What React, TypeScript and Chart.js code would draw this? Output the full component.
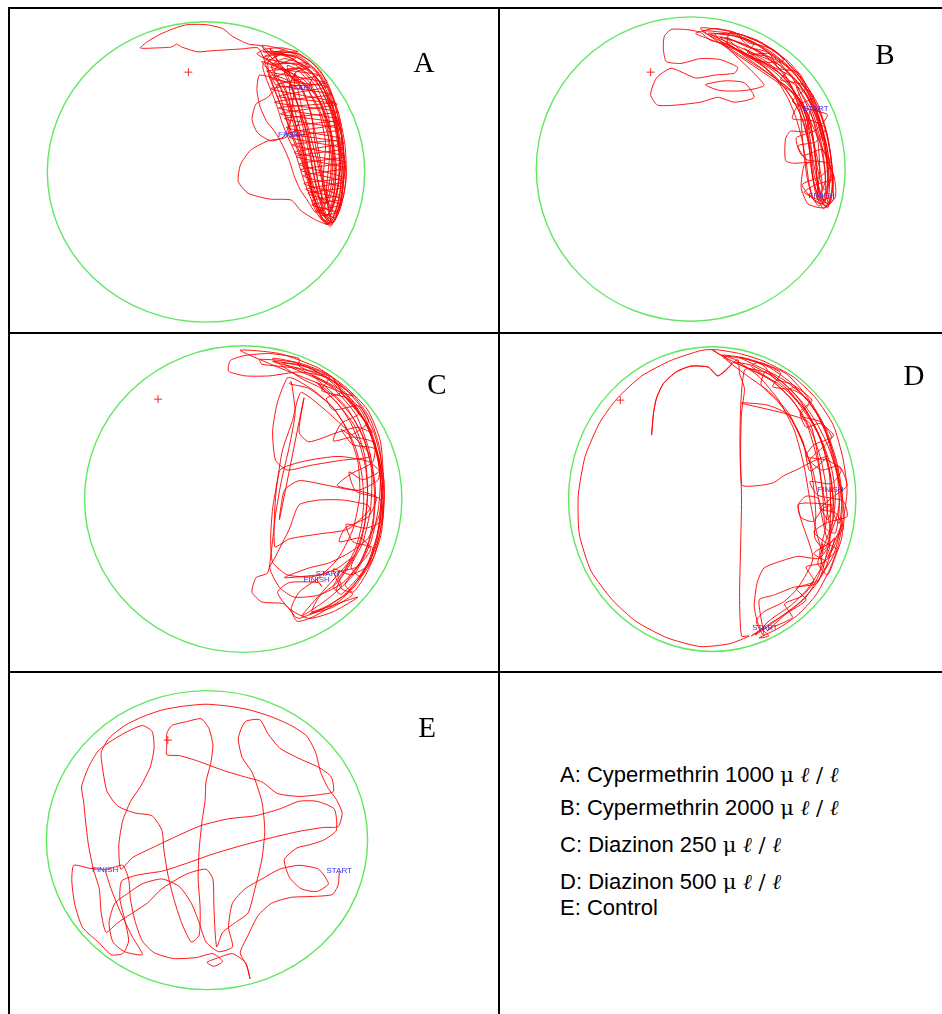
import React, { useEffect, useRef } from "react";
import { Chart, registerables } from "chart.js";

Chart.register(...registerables);

type Pt = [number, number];
type Label = { text: string; x: number; y: number };

// Tracker coordinates: arena centre = (0,0), x to the right, y downward (video pixels)

// ---------- Panel A: Cypermethrin 1000 ----------
const A_START: Pt[] = [[97, -87]];
const A_LOOP1: Pt[] = [[57,-130],[80,-126],[100,-116],[117,-100],[129,-77],[137,-47],[141,-12],[139,23],[133,46],[127,56],[119,48],[111,28],[103,3],[95,-22],[85,-47],[75,-72],[65,-97],[59,-117]];
const A_EXCURSION: Pt[] = [[53,-128],[37,-127],[21,-126],[5,-125],[-9,-124],[-25,-129],[-30,-132],[-35,-129],[-50,-128],[-67,-128],[-59,-135],[-47,-142],[-33,-148],[-19,-152],[0,-152],[17,-148],[27,-140],[43,-132],[57,-130]];
const A_LOOP2: Pt[] = [[67,-122],[90,-120],[111,-106],[125,-84],[133,-54],[136,-22],[135,13],[129,38],[121,46],[113,33],[105,8],[98,-17],[91,-44],[82,-72],[73,-94],[67,-110]];
const A_LOOP3: Pt[] = [[80,-117],[100,-110],[117,-92],[128,-64],[134,-32],[138,3],[135,33],[127,50],[117,38],[109,16],[101,-12],[93,-42],[87,-67],[78,-92]];
const A_SIDE: Pt[] = [[63,-77],[51,-70],[47,-54],[53,-40],[67,-32],[80,-37],[85,-52],[77,-67]];
const A_LOOP4: Pt[] = [[63,-112],[85,-124],[107,-114],[123,-94],[135,-62],[142,-27],[143,8],[137,38],[129,53],[121,43],[115,23],[109,-2],[105,-32],[97,-60],[89,-84],[80,-104]];
const A_LOOP5: Pt[] = [[95,-107],[113,-87],[125,-57],[129,-22],[128,13],[122,33],[113,23],[105,-2],[99,-32],[91,-62],[85,-87],[91,-102]];
const A_BIGLOOP: Pt[] = [[83,-37],[63,-32],[45,-22],[35,-7],[33,10],[43,22],[65,28],[87,29],[97,40],[113,50],[125,54]];
const A_LOOP7: Pt[] = [[120,43],[113,18],[107,-12],[100,-42],[93,-72],[83,-100],[70,-122],[93,-118],[115,-100],[127,-74],[135,-44],[139,-10],[137,20],[131,42]];
const A_LOOP8: Pt[] = [[125,33],[120,8],[115,-22],[109,-52],[101,-80],[91,-102],[105,-106],[121,-84],[132,-52],[137,-17],[135,16],[129,36]];
const A_LOOP9: Pt[] = [[123,28],[117,-2],[111,-32],[107,-62],[95,-90],[75,-112],[65,-127]];
const A_LOOP6: Pt[] = [[70,-124],[95,-122],[117,-104],[131,-72],[139,-37],[141,-2],[138,28],[131,50],[123,54],[115,40],[108,18],[103,-7],[97,-32],[89,-57],[79,-82],[67,-102],[57,-114]];
const A_LOOP10: Pt[] = [[100,-95],[118,-70],[128,-40],[133,-5],[130,25],[124,45],[118,30],[120,0],[122,-30],[116,-60],[105,-85]];
const A_LOOP11: Pt[] = [[110,-98],[126,-66],[136,-30],[140,5],[136,35],[128,48],[123,20],[126,-15],[124,-45],[112,-80]];
const A_X1: Pt[] = [[60,-118],[74,-121],[88,-117],[99,-108],[112,-98],[120,-86],[128,-71],[133,-55],[138,-38],[139,-21],[142,-4],[140,14],[138,30],[133,44],[126,52],[118,47],[112,36],[108,22],[106,6],[101,-10],[98,-27],[93,-43],[88,-60],[84,-76],[77,-92],[70,-104]];
const A_X2: Pt[] = [[76,-112],[90,-111],[104,-101],[116,-88],[124,-72],[131,-57],[134,-40],[136,-22],[137,-6],[135,10],[132,27],[126,41],[121,35],[117,20],[113,3],[110,-14],[105,-29],[101,-46],[96,-62],[90,-79],[84,-94]];
const A_X3: Pt[] = [[66,-100],[72,-88],[77,-74],[81,-58],[86,-41],[92,-26],[98,-10],[103,7],[108,22],[114,36],[122,48],[130,52],[136,40],[141,22],[143,2],[141,-18],[139,-36],[134,-54],[127,-72],[119,-88],[108,-102],[96,-112],[82,-120],[70,-124]];
const A_X4: Pt[] = [[58,-110],[62,-95],[68,-80],[73,-66],[78,-50],[84,-35],[91,-20],[96,-4],[101,12],[107,27],[113,42],[120,51],[127,45],[130,30],[132,12],[132,-6],[130,-24],[127,-42],[121,-60],[114,-77],[106,-92],[95,-104],[83,-110]];
const A_X5: Pt[] = [[88,-96],[100,-92],[111,-80],[119,-66],[124,-50],[128,-33],[130,-16],[131,2],[129,18],[124,33],[118,25],[114,9],[111,-8],[107,-25],[104,-42],[100,-58],[96,-74],[92,-88]];
const A_X6: Pt[] = [[55,-100],[52,-85],[55,-68],[62,-52],[70,-42],[78,-28],[85,-12],[90,4],[96,18],[104,30],[112,42]];
const A_X7: Pt[] = [[120,38],[124,22],[127,4],[128,-14],[126,-32],[121,-50],[115,-66],[107,-80],[98,-93],[86,-103],[72,-110],[62,-116],[52,-122],[62,-127],[78,-128],[94,-124]];
const A_Z1: Pt[] = [[58,-124],[92,-118],[66,-108],[115,-100],[72,-90],[128,-80],[70,-72],[135,-62],[80,-55],[139,-44],[85,-36],[141,-24],[92,-16],[142,-4],[99,4],[140,16],[104,22],[138,34],[112,40],[132,48],[122,54]];
const A_Z2: Pt[] = [[128,50],[108,30],[137,24],[100,12],[141,6],[95,-8],[142,-16],[88,-28],[140,-34],[82,-46],[137,-54],[74,-66],[131,-72],[66,-86],[122,-92],[62,-104],[106,-108],[58,-118],[80,-126]];
const A_Z3: Pt[] = [[62,-112],[104,-112],[68,-96],[124,-88],[74,-78],[134,-70],[76,-60],[138,-50],[84,-40],[141,-30],[90,-20],[143,-10],[96,-2],[141,10],[102,18],[139,28],[108,34],[135,42],[116,46],[128,54]];
const A_END: Pt[] = [[100,-60],[92,-45],[87,-38]];
const A_ORIGIN: Pt[] = [[-18, -103]];
const A_LABELS: Label[] = [{ text: "START", x: 97, y: -87 }, { text: "FINISH", x: 87, y: -38 }];

// ---------- Panel B: Cypermethrin 2000 ----------
const B_START: Pt[] = [[128, -62]];
const B_LOOP4: Pt[] = [[135,-29],[128,-54],[118,-77],[100,-99],[75,-119],[48,-131],[20,-139],[50,-139],[78,-127],[102,-109],[120,-84],[134,-54],[142,-21],[146,16],[140,36]];
const B_LOOP5: Pt[] = [[132,26],[128,-4],[125,-34],[118,-59],[105,-81],[85,-101],[62,-117],[80,-119],[102,-103],[120,-79],[132,-51],[140,-19],[143,13]];
const B_LOOP6: Pt[] = [[136,21],[130,1],[126,-24],[122,-51],[110,-74]];
const B_LOOP1: Pt[] = [[10,-145],[40,-142],[70,-131],[95,-114],[115,-91],[130,-67],[140,-34],[145,1],[144,29],[136,41],[128,26],[124,1],[120,-29],[112,-57],[98,-81],[78,-103],[50,-121],[22,-133]];
const B_X5: Pt[] = [[5,-140],[25,-145],[45,-141],[60,-130],[70,-128],[85,-123],[95,-112],[80,-110],[60,-115],[40,-128],[20,-133]];
const B_EXCURSION: Pt[] = [[10,-141],[-5,-144],[-20,-144],[-27,-137],[-28,-124],[-25,-111],[-10,-109],[10,-114],[30,-113],[48,-105]];
const B_LOBE: Pt[] = [[45,-99],[25,-97],[5,-94],[-20,-104],[-35,-94],[-41,-77],[-34,-66],[-15,-66],[10,-69],[28,-74],[45,-69],[65,-74]];
const B_WANDER: Pt[] = [[55,-89],[35,-91],[15,-87],[30,-81],[55,-81],[75,-87]];
const B_LOOP2: Pt[] = [[25,-139],[55,-135],[82,-121],[105,-101],[122,-74],[134,-44],[140,-9],[140,21],[132,31],[125,11],[122,-19],[116,-47],[105,-71],[88,-94],[65,-114],[38,-129]];
const B_LOOP3: Pt[] = [[40,-141],[68,-133],[92,-117],[112,-94],[128,-64],[138,-29],[144,6],[146,31],[138,39],[130,21],[128,-9],[124,-39],[115,-64],[100,-89],[80,-109],[55,-124]];
const B_LOOP7: Pt[] = [[115,-80],[130,-50],[138,-15],[141,15],[137,35],[130,30],[132,0],[130,-30],[122,-60]];
const B_BOX: Pt[] = [[118,-39],[102,-39],[97,-31],[97,-9],[105,-6],[122,-7]];
const B_LOWER: Pt[] = [[116,-4],[113,19],[120,36],[136,40],[148,29],[147,9],[140,-9]];
const B_LOOP8: Pt[] = [[108,-85],[124,-60],[134,-25],[138,10],[133,25],[126,5],[123,-25],[118,-55],[106,-78]];
const B_X1: Pt[] = [[30,-136],[52,-130],[72,-120],[90,-104],[103,-86],[112,-66],[118,-46],[121,-25],[123,-3],[127,17],[133,33],[140,40],[144,26],[145,6],[143,-16],[139,-38],[132,-58],[122,-78],[108,-96],[92,-112],[72,-126],[50,-136]];
const B_X2: Pt[] = [[62,-125],[80,-114],[96,-98],[106,-78],[112,-58],[114,-36],[116,-14],[119,8],[124,28],[131,38],[138,30],[140,10],[139,-12],[136,-34],[130,-55],[120,-75],[106,-94],[90,-108]];
const B_X3: Pt[] = [[18,-140],[45,-137],[68,-128],[88,-113],[104,-94],[116,-72],[126,-49],[133,-24],[137,0],[138,22],[134,36],[126,32],[121,14],[118,-8],[114,-30],[108,-52],[100,-72],[88,-92],[72,-108],[52,-121],[32,-130]];
const B_X4: Pt[] = [[100,-84],[110,-68],[117,-50],[121,-30],[125,-10],[129,10],[134,28],[139,36],[142,20],[141,0],[138,-20],[134,-40],[127,-60],[117,-79],[104,-95]];
const B_W1: Pt[] = [[12,-142],[40,-140],[65,-130],[58,-120],[80,-116],[100,-104],[92,-92],[112,-88],[126,-74],[110,-66],[104,-52],[124,-50],[138,-42],[128,-28],[110,-24],[118,-10],[140,-6],[146,10],[128,16],[116,24],[132,32],[144,30]];
const B_W2: Pt[] = [[140,38],[124,30],[114,16],[132,8],[144,-4],[134,-20],[114,-14],[108,-32],[128,-40],[140,-56],[120,-62],[104,-70],[118,-84],[110,-100],[90,-104],[80,-120],[58,-126],[36,-136]];
const B_END: Pt[] = [[55,-120],[90,-100],[112,-70],[125,-30],[134,10],[134,28]];
const B_ORIGIN: Pt[] = [[-41, -100]];
const B_LABELS: Label[] = [{ text: "START", x: 128, y: -62 }, { text: "FINISH", x: 134, y: 28 }];

// ---------- Panel C: Diazinon 250 ----------
const C_START: Pt[] = [[87, 77]];
const C_N10: Pt[] = [[42,81],[67,71],[87,66],[107,56],[127,41],[139,16],[142,-19],[139,-54],[129,-84],[112,-107],[87,-124],[57,-137]];
const C_TOP: Pt[] = [[57,-145],[27,-150],[2,-148],[-13,-143],[-15,-132],[2,-127],[27,-127],[57,-131],[87,-125],[112,-106]];
const C_N2: Pt[] = [[-3,-153],[37,-150],[77,-135],[105,-115],[127,-92],[140,-60],[143,-20],[140,20],[132,56],[117,86],[97,106],[72,121],[55,126],[49,113],[57,96],[77,81],[97,61],[112,31],[119,-4],[117,-39],[107,-69],[92,-94],[67,-114],[47,-119]];
const C_N3: Pt[] = [[49,-121],[53,-89],[47,-54],[39,-19],[33,16],[29,51],[25,76],[13,81],[9,96],[19,106],[42,108],[53,121]];
const C_N4: Pt[] = [[57,123],[82,113],[107,96],[125,71],[137,36],[141,-4],[137,-44],[125,-79],[105,-107],[79,-129],[52,-141],[17,-144]];
const C_N5: Pt[] = [[19,-139],[57,-134],[92,-114],[115,-87],[129,-49],[135,-9],[132,31],[122,61],[102,86],[77,99],[52,101],[37,91],[27,71]];
const C_N6: Pt[] = [[32,61],[47,31],[57,6],[77,1],[102,1],[127,6]];
const C_N7: Pt[] = [[129,11],[107,31],[77,36],[47,41],[32,49]];
const C_N8: Pt[] = [[37,-29],[62,-39],[97,-44],[127,-39],[139,-29]];
const C_N9: Pt[] = [[137,-19],[117,-9],[87,-14],[57,-19],[42,-9],[37,21]];
const C_N11: Pt[] = [[62,-104],[57,-69],[67,-59],[97,-69],[117,-74],[132,-69]];
const C_N13: Pt[] = [[100,-110],[125,-80],[138,-45],[144,-5],[141,35],[133,60],[120,80],[110,70],[122,45],[130,10],[131,-30],[122,-65],[105,-95],[85,-115]];
const C_N14: Pt[] = [[70,-128],[100,-112],[120,-92],[134,-60],[140,-25],[138,10],[130,45],[115,75],[95,95],[100,80],[115,55],[124,25],[127,-10],[124,-45],[114,-75],[95,-100]];
const C_X3: Pt[] = [[75,-120],[95,-104],[112,-84],[124,-60],[131,-34],[134,-8],[133,18],[128,44],[118,68],[104,88],[112,96],[124,80],[134,58],[140,32],[143,4],[141,-26],[135,-54],[124,-80],[108,-102],[88,-118]];
const C_X1: Pt[] = [[40,-140],[65,-136],[88,-124],[106,-108],[120,-88],[131,-64],[138,-38],[141,-12],[141,14],[137,40],[130,62],[118,82],[104,98],[86,110],[70,116],[78,100],[96,86],[110,66],[120,44],[125,20],[127,-6],[125,-32],[119,-56],[110,-78],[97,-98],[80,-114],[60,-124]];
const C_X2: Pt[] = [[30,-145],[58,-140],[84,-130],[104,-114],[120,-95],[133,-70],[140,-44],[144,-16],[143,12],[139,38],[131,60],[118,80],[100,98],[92,90],[104,72],[115,50],[121,26],[123,0],[121,-26],[115,-52],[104,-76],[90,-96],[72,-112],[52,-124]];
const C_X5: Pt[] = [[45,-125],[35,-100],[30,-70],[33,-40],[45,-30],[70,-35],[100,-40],[130,-45]];
const C_X4: Pt[] = [[60,-110],[50,-80],[40,-50],[35,-20],[30,10],[28,40],[30,65],[45,78],[70,80],[95,72],[112,60]];
const C_W2: Pt[] = [[60,120],[82,106],[100,90],[96,76],[116,70],[130,52],[120,40],[98,44],[104,30],[128,18],[136,-2],[120,-8],[96,-14],[110,-26],[132,-38],[134,-58],[112,-64],[92,-60],[100,-78],[118,-88],[106,-104],[80,-112],[88,-126],[60,-134],[36,-140]];
const C_W1: Pt[] = [[30,-142],[60,-138],[90,-126],[100,-110],[85,-104],[92,-92],[118,-96],[128,-80],[110,-66],[100,-72],[112,-56],[134,-52],[140,-30],[122,-20],[108,-28],[115,-8],[140,0],[142,22],[125,30],[105,26],[112,44],[132,50],[128,68],[110,78],[92,72],[100,92],[112,98],[90,112],[68,118]];
const C_N12: Pt[] = [[117,101],[92,116],[67,123],[47,113],[35,96],[47,86],[77,86]];
const C_END: Pt[] = [[80,90],[75,83]];
const C_ORIGIN: Pt[] = [[-87, -103]];
const C_LABELS: Label[] = [{ text: "START", x: 87, y: 77 }, { text: "FINISH", x: 75, y: 83 }];

// ---------- Panel D: Diazinon 500 ----------
const D_START: Pt[] = [[54, 133]];
const D_P8: Pt[] = [[40,141],[58,129],[78,116],[96,101],[110,76],[113,46]];
const D_P2: Pt[] = [[113,56],[106,31],[100,1],[94,-34],[84,-71],[68,-102],[48,-126],[23,-144],[8,-149]];
const D_BIGLOOP: Pt[] = [[0,-154],[-12,-153],[-42,-143],[-72,-127],[-97,-104],[-115,-79],[-130,-44],[-137,-4],[-136,36],[-124,74],[-102,104],[-78,126],[-46,143],[-12,152],[18,149],[38,141]];
const D_VERTICAL: Pt[] = [[30,141],[28,101],[29,51],[30,1],[29,-49],[30,-89],[33,-114],[28,-129],[26,-144]];
const D_TOPIN: Pt[] = [[6,-127],[-4,-136],[-22,-137],[-37,-131],[-50,-119],[-57,-104],[-60,-89],[-62,-66],[-60,-89],[-57,-104],[-50,-119],[-37,-131],[-22,-137],[-4,-136],[6,-127],[20,-140]];
const D_P1: Pt[] = [[0,-154],[28,-150],[53,-142],[83,-126],[106,-104],[124,-76],[134,-41],[138,-9],[134,21],[126,46],[118,61]];
const D_P7: Pt[] = [[133,26],[128,51],[120,73],[106,99],[88,119],[68,133],[48,143]];
const D_P10: Pt[] = [[58,141],[48,131],[43,111],[46,86],[53,71],[70,64],[88,59],[110,61]];
const D_X4: Pt[] = [[125,40],[118,66],[106,88],[90,106],[72,120],[56,132],[44,140],[60,124],[80,110],[98,92],[112,70],[120,50]];
const D_P4: Pt[] = [[120,26],[114,-4],[108,-39],[98,-74],[83,-101],[63,-121],[40,-137]];
const D_P5: Pt[] = [[48,-141],[76,-129],[96,-107],[113,-79],[123,-44],[131,-9],[128,16],[118,41],[110,6],[103,-29],[90,-64],[78,-89],[58,-111],[36,-127]];
const D_X1: Pt[] = [[10,-148],[35,-145],[58,-136],[78,-122],[95,-105],[108,-86],[118,-64],[126,-40],[131,-14],[133,12],[130,36],[124,58],[115,72],[110,56],[115,34],[118,10],[116,-16],[111,-42],[103,-66],[92,-88],[78,-106],[62,-121],[42,-133],[22,-141]];
const D_X2: Pt[] = [[40,-138],[62,-126],[80,-110],[96,-90],[108,-68],[117,-44],[122,-18],[124,8],[122,32],[115,52],[105,40],[106,16],[104,-10],[100,-36],[92,-60],[81,-82],[66,-102],[50,-118]];
const D_X3: Pt[] = [[55,-132],[75,-118],[92,-100],[106,-80],[118,-56],[127,-30],[133,-4],[135,20],[132,42],[125,62],[118,78],[108,66],[116,44],[124,20],[126,-6],[122,-32],[113,-58],[100,-82],[84,-104],[66,-120]];
const D_W1: Pt[] = [[12,-147],[45,-142],[70,-130],[62,-116],[84,-112],[100,-100],[90,-86],[110,-80],[122,-64],[104,-56],[96,-44],[118,-40],[132,-30],[122,-16],[100,-18],[108,-4],[134,2],[138,18],[118,24],[104,34],[118,46],[128,52],[112,66],[96,70],[104,84],[92,100],[74,108],[82,122],[62,132]];
const D_W2: Pt[] = [[56,136],[76,118],[96,104],[86,92],[108,84],[118,66],[104,56],[122,44],[134,30],[126,14],[110,10],[126,-4],[138,-14],[130,-34],[112,-30],[100,-40],[114,-54],[124,-66],[110,-78],[96,-74],[90,-90],[102,-102],[82,-118],[64,-124],[52,-138],[28,-146]];
const D_P13: Pt[] = [[70,-125],[95,-105],[115,-75],[127,-40],[133,-5],[130,25],[122,10],[120,-25],[112,-60],[97,-90],[78,-112]];
const D_P14: Pt[] = [[85,-115],[105,-92],[120,-60],[128,-25],[130,10],[126,35],[116,30],[113,-5],[108,-45],[98,-80]];
const D_P12: Pt[] = [[30,-99],[56,-97],[78,-87],[93,-59],[100,-29]];
const D_MID: Pt[] = [[118,-44],[103,-39],[88,-31],[73,-24],[63,-17],[48,-14],[30,-15]];
const D_P6: Pt[] = [[33,-133],[63,-127],[88,-104],[108,-69],[120,-29],[124,6],[118,21]];
const D_SMALLLOOP: Pt[] = [[113,13],[108,-1],[96,-3],[88,6],[91,19],[103,23],[114,9],[123,6],[88,6]];
const D_P9: Pt[] = [[103,61],[88,91],[73,106],[53,116],[45,126],[53,141]];
const D_P11: Pt[] = [[48,104],[63,99],[83,91],[108,86]];
const D_END: Pt[] = [[120,40],[121,-10]];
const D_ORIGIN: Pt[] = [[-94, -102]];
const D_LABELS: Label[] = [{ text: "START", x: 54, y: 133 }, { text: "FINISH", x: 121, y: -10 }];

// ---------- Panel E: Control ----------
const E_START: Pt[] = [[135, 32]];
const E_1: Pt[] = [[134,46],[128,56],[110,58],[86,59],[66,65],[52,78],[42,98],[34,116],[41,130],[44,143]];
const E_2: Pt[] = [[39,126],[26,117],[12,121],[0,126],[7,130],[16,125],[6,117],[-11,121],[-34,122],[-54,116],[-66,104],[-73,85],[-78,62],[-80,40],[-86,26],[-102,30],[-120,29],[-136,26]];
const E_3: Pt[] = [[-138,42],[-135,66],[-127,90],[-110,106],[-98,118],[-86,117],[-80,104],[-84,82],[-89,60],[-87,42],[-71,36],[-46,32],[-21,24],[4,15],[34,6],[64,-2],[94,-9],[119,-13],[134,-14]];
const E_4: Pt[] = [[138,-28],[132,-42],[124,-53],[116,-70],[111,-90],[102,-107],[86,-118],[66,-127],[44,-134],[22,-138],[-1,-140],[-24,-138],[-46,-134],[-66,-127],[-84,-118],[-100,-105],[-108,-90]];
const E_5: Pt[] = [[-106,-70],[-102,-50],[-91,-35],[-74,-28],[-56,-25],[-46,-10],[-44,10],[-40,35],[-34,60],[-26,85],[-16,105]];
const E_6: Pt[] = [[-8,98],[-7,70],[-9,40],[-8,10],[-5,-20],[-2,-40],[-1,-60],[4,-80],[6,-98],[2,-115],[-6,-125]];
const E_7: Pt[] = [[-21,-122],[-36,-118],[-41,-110],[-41,-98],[-41,-88],[-28,-87],[-11,-82],[16,-72],[39,-65],[56,-60],[72,-48],[94,-45],[116,-47],[129,-50]];
const E_8: Pt[] = [[127,-65],[114,-75],[92,-85],[74,-95],[62,-110],[54,-124]];
const E_9: Pt[] = [[39,-122],[32,-105],[36,-85],[46,-70],[56,-40],[59,-10],[56,20],[49,50],[42,75]];
const E_10: Pt[] = [[29,85],[16,95],[10,110],[8,90],[7,65],[6,40],[-1,30],[-21,35],[-46,50],[-61,65],[-76,75],[-91,85],[-103,95]];
const E_11: Pt[] = [[-108,75],[-110,50],[-116,30],[-121,5],[-124,-20],[-126,-40],[-128,-55],[-121,-75],[-111,-92],[-98,-102]];
const E_12: Pt[] = [[-81,-112],[-66,-118],[-56,-112],[-54,-95],[-58,-75],[-68,-55],[-78,-40],[-86,-20],[-90,5],[-88,30]];
const E_13: Pt[] = [[-76,18],[-56,8],[-31,-4],[-6,-15],[22,-22],[49,-25],[74,-32],[94,-40],[112,-40],[130,-32]];
const E_14: Pt[] = [[132,-10],[119,0],[104,5],[92,8],[79,20],[84,38],[96,50],[112,53],[124,45]];
const E_15: Pt[] = [[114,30],[94,26],[74,30],[56,40],[39,50],[26,65],[22,90],[26,110]];
const E_16: Pt[] = [[12,115],[-1,105],[-8,85],[-16,65],[-28,48],[-46,40],[-66,45],[-81,55]];
const E_17: Pt[] = [[-94,65],[-100,85],[-96,105],[-84,115],[-66,118]];
const E_END: Pt[] = [[-76,100],[-88,75],[-98,50],[-104,31]];
const E_ORIGIN: Pt[] = [[-40, -103]];
const E_LABELS: Label[] = [{ text: "START", x: 135, y: 32 }, { text: "FINISH", x: -104, y: 31 }];

const TRACK_A: Pt[] = [...A_START, ...A_LOOP1, ...A_EXCURSION, ...A_LOOP2, ...A_LOOP3, ...A_SIDE, ...A_LOOP4, ...A_LOOP5, ...A_BIGLOOP, ...A_LOOP7, ...A_LOOP8, ...A_LOOP9, ...A_LOOP6, ...A_LOOP10, ...A_LOOP11, ...A_X1, ...A_X2, ...A_X3, ...A_X4, ...A_X5, ...A_X6, ...A_X7, ...A_Z1, ...A_Z2, ...A_Z3, ...A_END];
const TRACK_B: Pt[] = [...B_START, ...B_LOOP4, ...B_LOOP5, ...B_LOOP6, ...B_LOOP1, ...B_X5, ...B_EXCURSION, ...B_LOBE, ...B_WANDER, ...B_LOOP2, ...B_LOOP3, ...B_LOOP7, ...B_BOX, ...B_LOWER, ...B_LOOP8, ...B_X1, ...B_X2, ...B_X3, ...B_X4, ...B_W1, ...B_W2, ...B_END];
const TRACK_C: Pt[] = [...C_START, ...C_N10, ...C_TOP, ...C_N2, ...C_N3, ...C_N4, ...C_N5, ...C_N6, ...C_N7, ...C_N8, ...C_N9, ...C_N11, ...C_N13, ...C_N14, ...C_X3, ...C_X1, ...C_X2, ...C_X5, ...C_X4, ...C_W2, ...C_W1, ...C_N12, ...C_END];
const TRACK_D: Pt[] = [...D_START, ...D_P8, ...D_P2, ...D_BIGLOOP, ...D_VERTICAL, ...D_TOPIN, ...D_P1, ...D_P7, ...D_P10, ...D_X4, ...D_P4, ...D_P5, ...D_X1, ...D_X2, ...D_X3, ...D_W1, ...D_W2, ...D_P13, ...D_P14, ...D_P12, ...D_MID, ...D_P6, ...D_SMALLLOOP, ...D_P9, ...D_P11, ...D_END];
const TRACK_E: Pt[] = [...E_START, ...E_1, ...E_2, ...E_3, ...E_4, ...E_5, ...E_6, ...E_7, ...E_8, ...E_9, ...E_10, ...E_11, ...E_12, ...E_13, ...E_14, ...E_15, ...E_16, ...E_17, ...E_END];

// legend
const LEGEND_KEYS = ["A", "B", "C", "D", "E"];
const LEGEND_NAMES = ["Cypermethrin", "Cypermethrin", "Diazinon", "Diazinon", "Control"];
const LEGEND_DOSES = ["1000", "2000", "250", "500", ""];

// ---------- layout / style ----------
const ARENA_COLOR = "rgb(96,232,96)";
const TRACK_COLOR = "rgba(255,0,0,0.92)";
const LABEL_COLOR = "rgb(50,50,240)";

type PanelCfg = {
  id: string; left: number; top: number; w: number; h: number;
  cx: number; cy: number; rx: number; ry: number;
  track: Pt[]; origin: Pt[]; labels: Label[];
  letterX: number; letterY: number;
};

const PANELS: PanelCfg[] = [
  { id: "A", left: 10, top: 9, w: 488, h: 323, cx: 195, cy: 163, rx: 162, ry: 155, track: TRACK_A, origin: A_ORIGIN, labels: A_LABELS, letterX: 424, letterY: 62 },
  { id: "B", left: 500, top: 9, w: 442, h: 323, cx: 190, cy: 160, rx: 158, ry: 157, track: TRACK_B, origin: B_ORIGIN, labels: B_LABELS, letterX: 885, letterY: 54 },
  { id: "C", left: 10, top: 334, w: 488, h: 337, cx: 233, cy: 165, rx: 162, ry: 158, track: TRACK_C, origin: C_ORIGIN, labels: C_LABELS, letterX: 437, letterY: 384 },
  { id: "D", left: 500, top: 334, w: 442, h: 337, cx: 212, cy: 165, rx: 147, ry: 157, track: TRACK_D, origin: D_ORIGIN, labels: D_LABELS, letterX: 914, letterY: 375 },
  { id: "E", left: 10, top: 673, w: 488, h: 341, cx: 196, cy: 167, rx: 164, ry: 154, track: TRACK_E, origin: E_ORIGIN, labels: E_LABELS, letterX: 427, letterY: 727 },
];

function makeOverlay(p: PanelCfg) {
  return {
    id: "arena" + p.id,
    beforeDatasetsDraw(chart: any) {
      const { ctx, scales } = chart;
      const x = scales.x, y = scales.y;
      const cx = x.getPixelForValue(0), cy = y.getPixelForValue(0);
      const rx = Math.abs(x.getPixelForValue(p.rx) - cx);
      const ry = Math.abs(y.getPixelForValue(p.ry) - cy);
      ctx.save();
      ctx.beginPath();
      ctx.ellipse(cx, cy, rx, ry, 0, 0, Math.PI * 2);
      ctx.strokeStyle = ARENA_COLOR;
      ctx.lineWidth = 1.4;
      ctx.stroke();
      ctx.restore();
    },
    afterDatasetsDraw(chart: any) {
      const { ctx, scales } = chart;
      ctx.save();
      ctx.font = '8px "Liberation Sans", Arial, sans-serif';
      ctx.fillStyle = LABEL_COLOR;
      ctx.textAlign = "center";
      ctx.textBaseline = "middle";
      for (const l of p.labels) {
        ctx.fillText(l.text, scales.x.getPixelForValue(l.x), scales.y.getPixelForValue(l.y));
      }
      ctx.restore();
    },
  };
}

function Panel({ p }: { p: PanelCfg }) {
  const ref = useRef<HTMLCanvasElement>(null);
  useEffect(() => {
    const chart = new Chart(ref.current as HTMLCanvasElement, {
      type: "scatter",
      data: {
        datasets: [
          {
            data: p.track.map(([x, y]) => ({ x, y })),
            showLine: true,
            borderColor: TRACK_COLOR,
            borderWidth: 1,
            pointRadius: 0,
            tension: 0.2,
            fill: false,
          } as any,
          {
            data: p.origin.map(([x, y]) => ({ x, y })),
            showLine: false,
            pointStyle: "cross",
            pointRadius: 4,
            pointBorderColor: "rgb(255,40,40)",
            pointBorderWidth: 1,
            borderColor: "rgb(255,40,40)",
          } as any,
        ],
      },
      options: {
        animation: false,
        responsive: false,
        events: [],
        layout: { padding: 0 },
        plugins: { legend: { display: false }, tooltip: { enabled: false }, title: { display: false } },
        scales: {
          x: { type: "linear", display: false, min: -p.cx, max: p.w - p.cx },
          y: { type: "linear", display: false, reverse: true, min: -p.cy, max: p.h - p.cy },
        },
      },
      plugins: [makeOverlay(p)],
    });
    return () => chart.destroy();
  }, [p]);
  return (
    <canvas
      ref={ref}
      width={p.w}
      height={p.h}
      style={{ position: "absolute", left: p.left, top: p.top, width: p.w, height: p.h }}
    />
  );
}

const line = (left: number, top: number, width: number, height: number) => (
  <div style={{ position: "absolute", left, top, width, height, background: "#000" }} />
);

const UNIT_STYLE = { fontFamily: '"DejaVu Serif", "Liberation Serif", serif', fontSize: 21 };

export default function App() {
  const legendTops = [764, 797, 834, 871, 897];
  return (
    <div style={{ position: "absolute", left: 0, top: 0, width: 942, height: 1014, background: "#fff", overflow: "hidden" }}>
      {PANELS.map((p) => (
        <Panel key={p.id} p={p} />
      ))}
      {line(8, 7, 934, 2)}
      {line(8, 7, 2, 1007)}
      {line(498, 7, 2, 1007)}
      {line(8, 332, 934, 2)}
      {line(8, 671, 934, 2)}
      {PANELS.map((p) => (
        <div
          key={"l" + p.id}
          style={{
            position: "absolute",
            left: p.letterX,
            top: p.letterY - 15,
            transform: "translateX(-50%)",
            fontFamily: '"Liberation Serif", "Times New Roman", serif',
            fontSize: 29,
            lineHeight: "30px",
            color: "#000",
          }}
        >
          {p.id}
        </div>
      ))}
      {LEGEND_KEYS.map((k, i) => (
        <div
          key={"g" + k}
          style={{
            position: "absolute",
            left: 560,
            top: legendTops[i],
            whiteSpace: "nowrap",
            fontFamily: '"Liberation Sans", Arial, sans-serif',
            fontSize: 22,
            lineHeight: "22px",
            color: "#000",
          }}
        >
          {k}: {LEGEND_NAMES[i]}
          {LEGEND_DOSES[i] ? " " + LEGEND_DOSES[i] + " " : ""}
          {LEGEND_DOSES[i] ? (
            <span style={UNIT_STYLE}>
              μ <i>ℓ</i> / <i>ℓ</i>
            </span>
          ) : null}
        </div>
      ))}
    </div>
  );
}
